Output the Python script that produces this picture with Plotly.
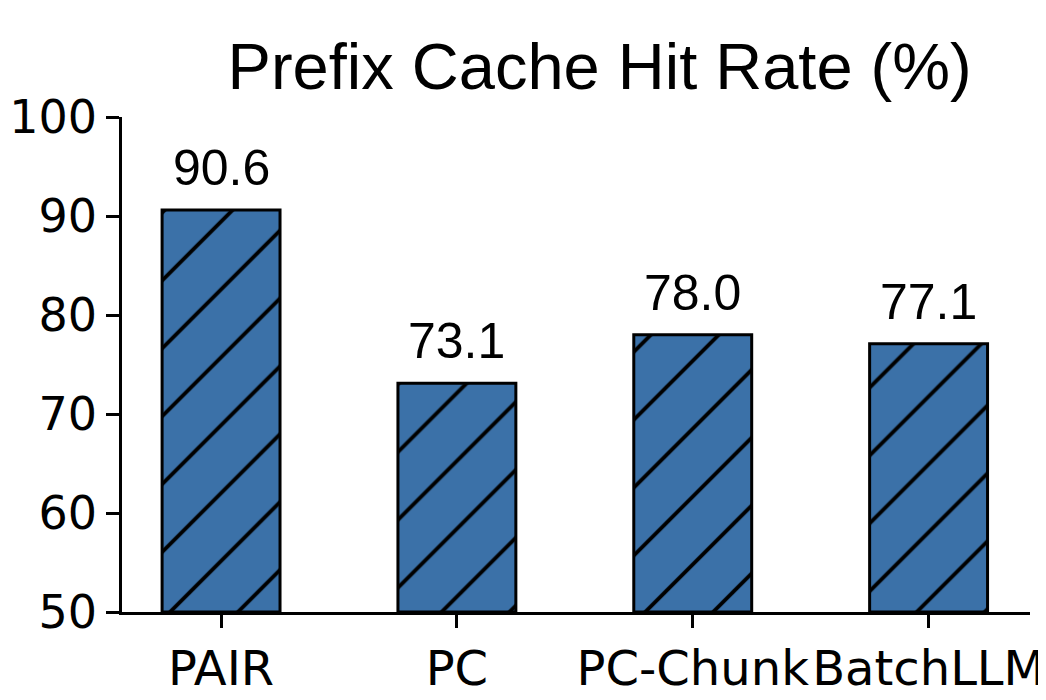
import plotly.graph_objects as go

categories = ["PAIR", "PC", "PC-Chunk", "BatchLLM"]
hit_rate = [90.6, 73.1, 78.0, 77.1]
y_ticks = [50, 60, 70, 80, 90, 100]

bar_color = "#3b71a8"

fig = go.Figure()
fig.add_trace(go.Bar(
    x=categories,
    y=[v - 50 for v in hit_rate],
    base=50,
    width=0.5,
    marker=dict(
        color=bar_color,
        line=dict(color="black", width=3),
        pattern=dict(shape="/", fgcolor="black", bgcolor=bar_color,
                     size=48, solidity=0.08, fillmode="replace"),
    ),
    hoverinfo="skip",
    showlegend=False,
))

for c, v in zip(categories, hit_rate):
    fig.add_annotation(x=c, y=v, text=f"{v:.1f}", showarrow=False,
                       yanchor="bottom", yshift=12,
                       font=dict(family="Liberation Sans, Arial", size=50, color="black"))

# page body has an 8px default margin, so the figure is sized to fit the window
fig.update_layout(
    width=1038, height=692,
    margin=dict(l=114, r=16, t=109, b=88, autoexpand=False),
    plot_bgcolor="white", paper_bgcolor="white",
    title=dict(text="Prefix Cache Hit Rate (%)", x=0.570, xanchor="center",
               y=0.916, yanchor="middle",
               font=dict(family="Liberation Sans, Arial", size=65, color="black")),
    bargap=0.5,
)
fig.update_xaxes(
    range=[-0.42, 3.43], showline=True, linecolor="black", linewidth=2.5,
    ticks="outside", ticklen=13, tickwidth=2.5, tickcolor="black",
    tickfont=dict(family="DejaVu Sans", size=48, color="black"),
    showgrid=False, zeroline=False, automargin=False,
)
fig.update_yaxes(
    range=[50, 100], tickvals=y_ticks, showline=True, linecolor="black", linewidth=2.5,
    ticks="outside", ticklen=13, tickwidth=2.5, tickcolor="black",
    tickfont=dict(family="DejaVu Sans", size=46, color="black"),
    ticklabelstandoff=0,
    showgrid=False, zeroline=False, automargin=False,
)

fig.write_html("out.html")
